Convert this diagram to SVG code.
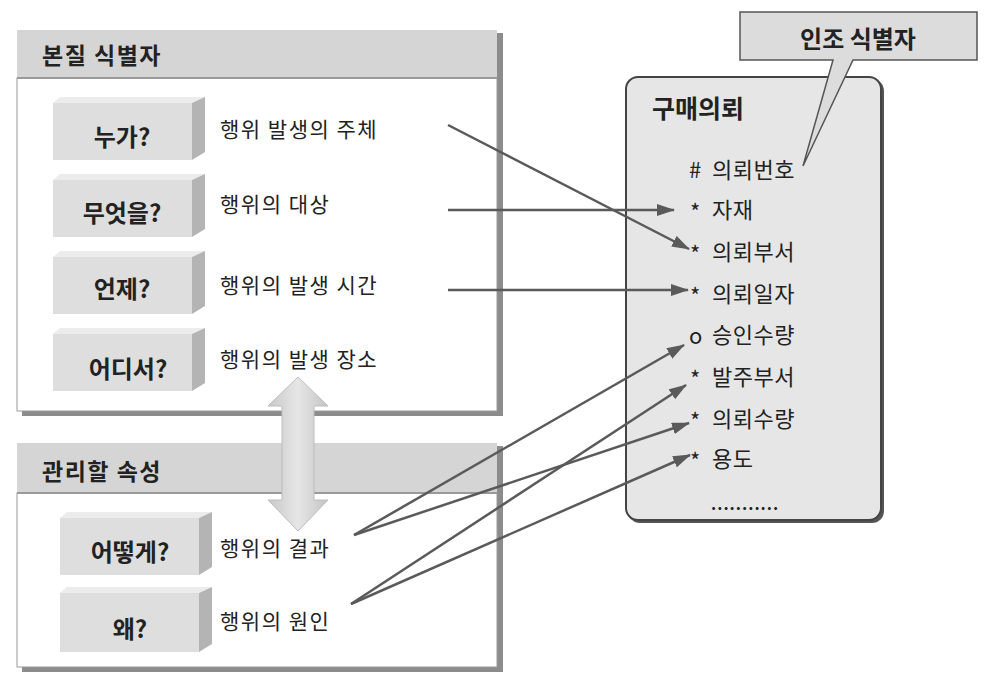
<svg xmlns="http://www.w3.org/2000/svg" width="988" height="688" viewBox="0 0 988 688">
<defs>
<style>
text{font-family:"Noto Sans CJK KR","Noto Sans",sans-serif;fill:#222;dominant-baseline:central}
.hdr{font-size:23px;font-weight:bold;letter-spacing:1.5px}
.q{font-size:24px;font-weight:bold;text-anchor:middle}
.lbl{font-size:21px;letter-spacing:1.5px}
.att{font-size:22px;letter-spacing:0.5px}
.hbar{fill:#d5d5d5}
.shadow{fill:#8c8c8c}
.body{fill:#fff;stroke:#9a9a9a;stroke-width:1}
.front{fill:#dedede}
.top{fill:#ececec}
.side{fill:#b4b4b4}
.conn{stroke:#5a5a5a;stroke-width:2.5;fill:none;marker-end:url(#ah)}
</style>
<marker id="ah" markerUnits="userSpaceOnUse" markerWidth="18" markerHeight="12" refX="17" refY="6" orient="auto">
<path d="M0,0 L18,6 L0,12 Z" fill="#5a5a5a"/>
</marker>
<linearGradient id="dbl" x1="0" x2="1" y1="0" y2="0">
<stop offset="0" stop-color="#c8c8c8"/>
<stop offset="0.5" stop-color="#e6e6e6"/>
<stop offset="1" stop-color="#c4c4c4"/>
</linearGradient>
</defs>

<g id="panel-essential">
<rect class="shadow" x="497" y="33" width="6" height="383"/>
<rect class="shadow" x="22" y="411" width="481" height="5"/>
<rect class="body" x="17" y="78" width="480" height="333"/>
<rect class="hbar" x="17" y="30" width="480" height="48"/>
<line x1="17" y1="78" x2="497" y2="78" stroke="#9a9a9a" stroke-width="2"/>
<text class="hdr" x="42" y="54">본질 식별자</text>
</g>

<g id="panel-manage">
<rect class="shadow" x="497" y="446" width="6" height="226"/>
<rect class="shadow" x="22" y="667" width="481" height="5"/>
<rect class="body" x="17" y="493" width="480" height="174"/>
<rect class="hbar" x="17" y="443" width="480" height="50"/>
<line x1="17" y1="493" x2="497" y2="493" stroke="#9a9a9a" stroke-width="2"/>
<text class="hdr" x="42" y="470">관리할 속성</text>
</g>

<g id="node-who">
<polygon class="top" points="53,103 60,97 205,97 192,103"/>
<polygon class="side" points="192,103 205,97 205,152 192,160"/>
<rect class="front" x="53" y="103" width="139" height="57"/>
<text class="q" x="122" y="135">누가?</text>
<text class="lbl" x="220" y="128">행위 발생의 주체</text>
</g>
<g id="node-what">
<polygon class="top" points="53,180 60,174 205,174 192,180"/>
<polygon class="side" points="192,180 205,174 205,229 192,237"/>
<rect class="front" x="53" y="180" width="139" height="57"/>
<text class="q" x="122" y="211">무엇을?</text>
<text class="lbl" x="220" y="203">행위의 대상</text>
</g>
<g id="node-when">
<polygon class="top" points="53,257 60,251 205,251 192,257"/>
<polygon class="side" points="192,257 205,251 205,306 192,314"/>
<rect class="front" x="53" y="257" width="139" height="57"/>
<text class="q" x="122" y="287">언제?</text>
<text class="lbl" x="220" y="284">행위의 발생 시간</text>
</g>
<g id="node-where">
<polygon class="top" points="53,334 60,328 205,328 192,334"/>
<polygon class="side" points="192,334 205,328 205,383 192,391"/>
<rect class="front" x="53" y="334" width="139" height="57"/>
<text class="q" x="128" y="367">어디서?</text>
<text class="lbl" x="220" y="358">행위의 발생 장소</text>
</g>
<g id="node-how">
<polygon class="top" points="60,518 67,512 212,512 199,518"/>
<polygon class="side" points="199,518 212,512 212,567 199,575"/>
<rect class="front" x="60" y="518" width="139" height="57"/>
<text class="q" x="130" y="550">어떻게?</text>
<text class="lbl" x="220" y="547">행위의 결과</text>
</g>
<g id="node-why">
<polygon class="top" points="60,593 67,587 212,587 199,593"/>
<polygon class="side" points="199,593 212,587 212,644 199,652"/>
<rect class="front" x="60" y="593" width="139" height="59"/>
<text class="q" x="130" y="627">왜?</text>
<text class="lbl" x="220" y="620">행위의 원인</text>
</g>

<g id="double-arrow">
<polygon points="298,377 328,406 314,406 314,500 328,500 298,531 268,500 282,500 282,406 268,406" fill="url(#dbl)" stroke="#bdbdbd" stroke-width="1"/>
</g>

<g id="entity">
<rect x="628" y="79" width="256" height="444" rx="12" fill="#555"/>
<rect x="626" y="77" width="255" height="443" rx="12" fill="#e6e6e6" stroke="#444" stroke-width="2"/>
<text x="652" y="107" style="font-size:25px;font-weight:bold">구매의뢰</text>
<text class="att" x="689" y="168">#</text><text class="att" x="712" y="168">의뢰번호</text>
<text class="att" x="690" y="210">*</text><text class="att" x="712" y="208">자재</text>
<text class="att" x="690" y="252">*</text><text class="att" x="712" y="250">의뢰부서</text>
<text class="att" x="690" y="294">*</text><text class="att" x="712" y="292">의뢰일자</text>
<text class="att" x="689" y="334">o</text><text class="att" x="712" y="333">승인수량</text>
<text class="att" x="690" y="377">*</text><text class="att" x="712" y="375">발주부서</text>
<text class="att" x="690" y="419">*</text><text class="att" x="712" y="417">의뢰수량</text>
<text class="att" x="690" y="459">*</text><text class="att" x="712" y="457">용도</text>
<text x="711" y="503" style="font-size:16px;font-weight:bold;letter-spacing:1px">...........</text>
</g>

<g id="callout">
<path d="M740,12 H977 V60 H853 L803,166 L833,60 H740 Z" fill="#dcdcdc" stroke="#555" stroke-width="1.5"/>
<text x="858" y="37" style="font-size:24px;font-weight:bold;text-anchor:middle">인조 식별자</text>
</g>

<g id="connectors">
<line class="conn" x1="448" y1="125" x2="689" y2="249"/>
<line class="conn" x1="448" y1="210" x2="674" y2="210"/>
<line class="conn" x1="448" y1="290" x2="688" y2="290"/>
<line class="conn" x1="354" y1="535" x2="684" y2="345"/>
<line class="conn" x1="354" y1="535" x2="689" y2="423"/>
<line class="conn" x1="351" y1="604" x2="686" y2="385"/>
<line class="conn" x1="351" y1="604" x2="690" y2="455"/>
</g>
</svg>
